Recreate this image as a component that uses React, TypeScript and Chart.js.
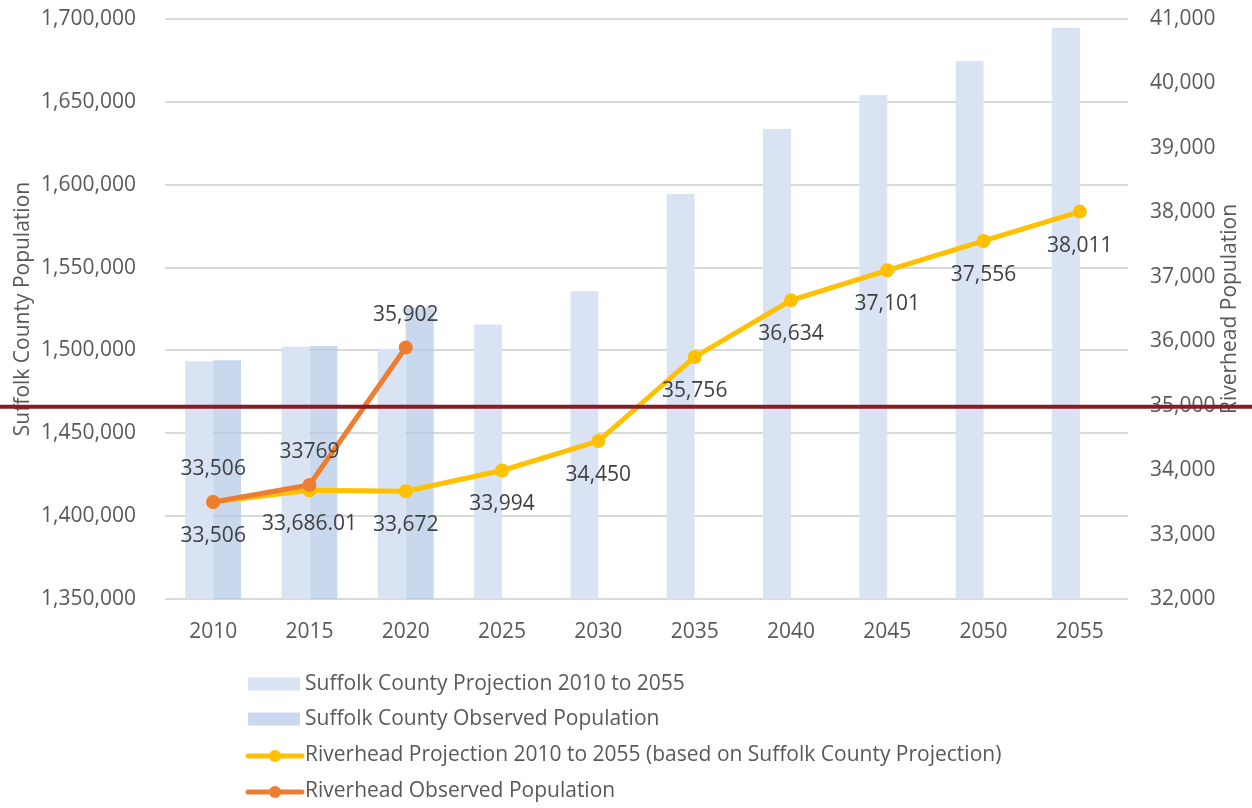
import React, { useEffect, useRef } from "react";
import { Chart, registerables } from "chart.js";

Chart.register(...registerables);

const years = ["2010", "2015", "2020", "2025", "2030", "2035", "2040", "2045", "2050", "2055"];
const suffolkProjection = [1493400, 1502250, 1501000, 1515700, 1535900, 1594400, 1633600, 1654100, 1674650, 1694750];
const suffolkObserved = [1494000, 1502700, 1525920, null, null, null, null, null, null, null];
const riverheadProjection = [33506, 33686.01, 33672, 33994, 34450, 35756, 36634, 37101, 37556, 38011];
const riverheadObserved = [33506, 33769, 35902, null, null, null, null, null, null, null];
const riverheadProjectionLabels = ["33,506", "33,686.01", "33,672", "33,994", "34,450", "35,756", "36,634", "37,101", "37,556", "38,011"];
const riverheadObservedLabels = ["33,506", "33769", "35,902"];
const thresholdRiverhead = 35000;
const leftAxis = { min: 1350000, max: 1700000, step: 50000, title: "Suffolk County Population" };
const rightAxis = { min: 32000, max: 41000, step: 1000, title: "Riverhead Population" };
const seriesNames = [
  "Suffolk County Projection 2010 to 2055",
  "Suffolk County Observed Population",
  "Riverhead Projection 2010 to 2055 (based on Suffolk County Projection)",
  "Riverhead Observed Population",
];

const FONT = "'Open Sans', sans-serif";
const FS = 21;
const TEXT = "#595959";
const LABEL = "#404040";
const C_PROJ_BAR = "#DAE3F3";
const C_OBS_BAR = "rgba(180,199,231,0.7)";
const C_PROJ_LINE = "#FFC000";
const C_OBS_LINE = "#ED7D31";
const C_RED = "#8B1A24";

const fmt = (v: number) => v.toLocaleString("en-US");

const overlayPlugin = {
  id: "overlay",
  afterDatasetsDraw(chart: any) {
    const ctx = chart.ctx;
    ctx.save();
    ctx.font = `${FS}px ${FONT}`;
    ctx.fillStyle = LABEL;
    ctx.textAlign = "center";
    ctx.textBaseline = "middle";
    const projMeta = chart.getDatasetMeta(2);
    projMeta.data.forEach((pt: any, i: number) => {
      if (riverheadProjectionLabels[i]) ctx.fillText(riverheadProjectionLabels[i], pt.x, pt.y + 34);
    });
    const obsMeta = chart.getDatasetMeta(3);
    obsMeta.data.forEach((pt: any, i: number) => {
      if (riverheadObservedLabels[i] && riverheadObserved[i] != null) ctx.fillText(riverheadObservedLabels[i], pt.x, pt.y - 33);
    });
    ctx.restore();
  },
  afterDraw(chart: any) {
    const ctx = chart.ctx;
    const area = chart.chartArea;
    ctx.save();
    ctx.font = `${FS}px ${FONT}`;
    ctx.fillStyle = TEXT;
    ctx.textAlign = "center";
    ctx.textBaseline = "middle";
    ctx.translate(1230, (area.top + area.bottom) / 2);
    ctx.rotate(-Math.PI / 2);
    ctx.fillText(rightAxis.title, 0, 0);
    ctx.restore();

    // legend
    ctx.save();
    ctx.font = `${FS}px ${FONT}`;
    ctx.textAlign = "left";
    ctx.textBaseline = "middle";
    const lx = 248;
    const rows = [684, 719, 755, 791];
    ctx.fillStyle = C_PROJ_BAR;
    ctx.fillRect(lx, rows[0] - 6.5, 52, 13);
    ctx.fillStyle = C_OBS_BAR;
    ctx.fillRect(lx, rows[1] - 6.5, 52, 13);
    [C_PROJ_LINE, C_OBS_LINE].forEach((c, k) => {
      const y = rows[2 + k] + 1;
      ctx.strokeStyle = c;
      ctx.lineWidth = 5;
      ctx.lineCap = "round";
      ctx.beginPath();
      ctx.moveTo(lx, y);
      ctx.lineTo(lx + 54, y);
      ctx.stroke();
      ctx.fillStyle = c;
      ctx.beginPath();
      ctx.arc(lx + 27, y, 6, 0, Math.PI * 2);
      ctx.fill();
    });
    ctx.fillStyle = TEXT;
    seriesNames.forEach((n, k) => ctx.fillText(n, 305, rows[k]));
    ctx.restore();

    // threshold line at Riverhead 35,000 across the full width
    const y1 = chart.scales.y1.getPixelForValue(thresholdRiverhead);
    ctx.save();
    ctx.strokeStyle = C_RED;
    ctx.lineWidth = 4;
    ctx.beginPath();
    ctx.moveTo(0, y1 + 1);
    ctx.lineTo(chart.width, y1 + 1);
    ctx.stroke();
    ctx.restore();
  },
};

const fixVertical = (w: number) => (s: any) => {
  s.width = w;
  s.paddingTop = 0;
  s.paddingBottom = 0;
};

export default function App() {
  const ref = useRef<HTMLCanvasElement | null>(null);
  useEffect(() => {
    if (!ref.current) return;
    const chart = new Chart(ref.current, {
      type: "bar",
      data: {
        labels: years,
        datasets: [
          {
            type: "bar",
            label: seriesNames[0],
            data: suffolkProjection,
            backgroundColor: C_PROJ_BAR,
            yAxisID: "y",
            order: 2,
            categoryPercentage: 0.58,
            barPercentage: 1,
          },
          {
            type: "bar",
            label: seriesNames[1],
            data: suffolkObserved as any,
            backgroundColor: C_OBS_BAR,
            yAxisID: "y",
            order: 2,
            categoryPercentage: 0.58,
            barPercentage: 1,
          },
          {
            type: "line",
            label: seriesNames[2],
            data: riverheadProjection,
            borderColor: C_PROJ_LINE,
            backgroundColor: C_PROJ_LINE,
            borderWidth: 5,
            pointRadius: 7,
            pointBorderWidth: 0,
            pointBackgroundColor: C_PROJ_LINE,
            yAxisID: "y1",
            order: 1,
            tension: 0,
          } as any,
          {
            type: "line",
            label: seriesNames[3],
            data: riverheadObserved as any,
            borderColor: C_OBS_LINE,
            backgroundColor: C_OBS_LINE,
            borderWidth: 5,
            pointRadius: 7,
            pointBorderWidth: 0,
            pointBackgroundColor: C_OBS_LINE,
            yAxisID: "y1",
            order: 0,
            tension: 0,
          } as any,
        ],
      },
      options: {
        responsive: false,
        animation: false,
        layout: { padding: { top: 19, bottom: 159, left: 0, right: 0 } },
        plugins: { legend: { display: false }, tooltip: { enabled: false } },
        scales: {
          x: {
            grid: { display: false },
            border: { display: false },
            ticks: { color: TEXT, font: { family: FONT, size: FS }, padding: 12 },
            afterFit: (s: any) => {
              s.height = 50;
            },
          },
          y: {
            position: "left",
            min: leftAxis.min,
            max: leftAxis.max,
            ticks: {
              stepSize: leftAxis.step,
              color: TEXT,
              font: { family: FONT, size: FS },
              padding: 29,
              callback: (v: any) => fmt(Number(v)),
            },
            grid: { color: "#D9D9D9", lineWidth: 2, drawTicks: false },
            border: { display: false },
            title: {
              display: true,
              text: leftAxis.title,
              color: TEXT,
              font: { family: FONT, size: FS },
              padding: { top: 10, bottom: 0 },
            },
            afterFit: fixVertical(165),
          },
          y1: {
            position: "right",
            min: rightAxis.min,
            max: rightAxis.max,
            ticks: {
              stepSize: rightAxis.step,
              color: TEXT,
              font: { family: FONT, size: FS },
              padding: 22,
              callback: (v: any) => fmt(Number(v)),
            },
            grid: { drawOnChartArea: false, drawTicks: false },
            border: { display: false },
            afterFit: fixVertical(124),
          },
        },
      } as any,
      plugins: [overlayPlugin],
    });
    return () => chart.destroy();
  }, []);
  return (
    <div style={{ position: "absolute", left: 0, top: 0, width: 1252, height: 808, background: "#fff" }}>
      <canvas ref={ref} width={1252} height={808} style={{ display: "block" }} />
    </div>
  );
}
